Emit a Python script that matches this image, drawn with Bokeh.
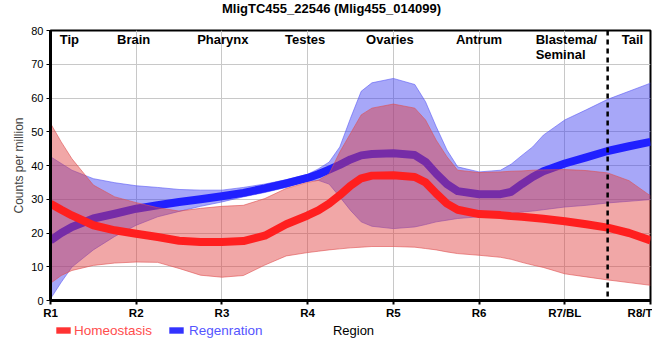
from bokeh.plotting import figure
from bokeh.layouts import column
from bokeh.models import (ColumnDataSource, Range1d, FixedTicker, Label, Span,
                          Legend, LegendItem)
from bokeh.embed import file_html
from bokeh.resources import INLINE

# ---- data ----
x = [1, 1.125, 1.25, 1.5, 1.75, 2, 2.25, 2.5, 2.75, 3, 3.25, 3.5, 3.75, 4,
     4.125, 4.25, 4.375, 4.5, 4.625, 4.75, 5, 5.25, 5.375, 5.5, 5.625, 5.75,
     6, 6.25, 6.375, 6.5, 6.625, 6.75, 7, 7.25, 7.5, 7.75, 8]

homeo_mean = [28.7, 26.9, 25.2, 22.3, 20.8, 19.8, 18.8, 17.7, 17.3, 17.3, 17.6,
              19.2, 22.6, 25.2, 26.7, 28.7, 31.2, 34.0, 36.2, 37.0, 37.1, 36.6,
              35.0, 31.7, 28.7, 26.9, 25.6, 25.3, 25.0, 24.8, 24.5, 24.2, 23.5,
              22.6, 21.6, 20.0, 17.8]
homeo_hi = [52.5, 47.0, 42.0, 34.2, 30.7, 29.0, 27.5, 26.5, 27.3, 27.9, 28.2,
            30.2, 33.2, 35.0, 35.6, 37.5, 44.0, 49.5, 55.0, 57.0, 58.2, 57.0,
            53.5, 47.5, 42.6, 38.6, 37.9, 38.1, 38.3, 38.4, 38.6, 38.7, 38.8,
            38.5, 37.8, 35.5, 31.0]
homeo_lo = [5.1, 7.4, 8.9, 10.4, 11.1, 11.4, 11.3, 9.5, 7.5, 6.9, 7.4, 10.5,
            13.2, 14.2, 14.6, 15.0, 15.3, 15.6, 15.8, 16.0, 16.0, 15.8, 15.4,
            15.0, 14.4, 13.9, 13.4, 12.8, 12.2, 11.3, 10.5, 9.8, 7.9, 7.0, 6.1,
            5.3, 4.5]

regen_mean = [17.8, 20.0, 21.8, 24.3, 25.7, 27.2, 28.2, 29.2, 30.0, 30.9, 31.9,
              33.2, 34.7, 36.3, 37.4, 38.8, 40.2, 41.8, 43.0, 43.4, 43.6, 43.1,
              41.1, 37.6, 34.5, 32.4, 31.5, 31.5, 32.2, 34.5, 36.6, 38.3, 40.6,
              42.4, 44.3, 45.7, 47.0]
regen_hi = [42.6, 40.6, 38.6, 36.1, 34.9, 34.0, 33.5, 32.9, 32.7, 32.7, 33.5,
            34.5, 35.8, 37.4, 39.0, 41.0, 45.5, 54.0, 62.0, 64.5, 65.8, 64.0,
            58.9, 51.5, 44.6, 39.6, 38.1, 38.6, 40.4, 43.0, 45.5, 49.0, 53.5,
            56.5, 59.6, 62.0, 64.4]
regen_lo = [0.5, 5.4, 9.9, 15.0, 19.0, 22.3, 24.8, 26.4, 27.9, 29.2, 30.7,
            32.0, 33.5, 35.4, 35.6, 34.5, 30.7, 26.7, 23.3, 22.0, 21.3, 21.8,
            22.5, 23.3, 23.8, 24.3, 24.8, 25.5, 25.8, 26.2, 26.5, 26.9, 27.7,
            28.2, 28.9, 29.4, 29.9]

tick_pos = [1, 2, 3, 4, 5, 6, 7, 8]
tick_labels = ["R1", "R2", "R3", "R4", "R5", "R6", "R7/BL", "R8/T"]
y_ticks = [0, 10, 20, 30, 40, 50, 60, 70, 80]

region_names = ["Tip", "Brain", "Pharynx", "Testes", "Ovaries", "Antrum", "Tail"]
region_x = [1.22, 1.97, 3.01, 3.97, 4.96, 6.0, 7.79]
blastema_lines = ["Blastema/", "Seminal"]
blastema_x = 6.66
tail_boundary = 7.5

TITLE = "MligTC455_22546 (Mlig455_014099)"
FONT = "Liberation Sans"
W = 652

src = ColumnDataSource(dict(x=x, hm=homeo_mean, hh=homeo_hi, hl=homeo_lo,
                            rm=regen_mean, rh=regen_hi, rl=regen_lo))

def strip(height):
    s = figure(width=W, height=height, output_backend="svg", toolbar_location=None,
               x_range=Range1d(50, 650), y_range=Range1d(0, height),
               x_axis_type=None, y_axis_type=None, min_border=0,
               min_border_left=50, min_border_right=2)
    s.grid.visible = False
    s.outline_line_color = None
    return s

# ---- top strip: title ----
H0 = 18
p0 = strip(H0)
p0.add_layout(Label(x=331, y=H0 - 8, text=TITLE, text_align="center",
                    text_baseline="middle", text_font=FONT, text_font_size="13px",
                    text_font_style="bold", text_color="black"))

# ---- main plot ----
p = figure(width=W, height=322 - H0, output_backend="svg", toolbar_location=None,
           x_range=Range1d(1, 8), y_range=Range1d(0, 80),
           min_border_left=50, min_border_right=2, min_border_top=30 - H0,
           min_border_bottom=22)

p.outline_line_color = "black"
p.outline_line_width = 2
p.outline_line_alpha = 1

for ax in (p.xaxis[0], p.yaxis[0]):
    ax.axis_line_width = 3
    ax.axis_line_color = "black"
    ax.major_tick_out = 4
    ax.major_tick_in = 0
    ax.minor_tick_out = 0
    ax.minor_tick_in = 0
    ax.major_tick_line_color = "black"
    ax.axis_label_text_font = FONT
    ax.axis_label_text_font_style = "normal"
    ax.major_label_text_font = FONT
    ax.major_label_text_color = "black"

p.xaxis.ticker = FixedTicker(ticks=tick_pos)
p.xaxis.major_label_overrides = {t: l for t, l in zip(tick_pos, tick_labels)}
p.xaxis.major_label_text_font_style = "bold"
p.xaxis.major_label_text_font_size = "11.5px"
p.xaxis.major_tick_line_width = 2
p.xaxis.major_label_standoff = 2

p.yaxis.ticker = FixedTicker(ticks=y_ticks)
p.yaxis.major_label_text_font_size = "11px"
p.yaxis.major_label_standoff = 3
p.yaxis.axis_label = "Counts per million"
p.yaxis.axis_label_text_font_size = "12px"
p.yaxis.axis_label_standoff = 2

p.xgrid.ticker = FixedTicker(ticks=tick_pos)
p.ygrid.ticker = FixedTicker(ticks=y_ticks)
p.grid.grid_line_color = "#c8c8c8"
p.grid.grid_line_width = 1

# regeneration band + line
p.varea(x="x", y1="rl", y2="rh", source=src, fill_color="#3c3cf0", fill_alpha=0.45)
p.line(x="x", y="rh", source=src, line_color="#5a5af5", line_width=1, line_alpha=0.6)
p.line(x="x", y="rl", source=src, line_color="#5a5af5", line_width=1, line_alpha=0.6)
p.line(x="x", y="rm", source=src, line_color="#2020ff", line_width=8, line_join="round")

# homeostasis band + line
p.varea(x="x", y1="hl", y2="hh", source=src, fill_color="#e03c3c", fill_alpha=0.45)
p.line(x="x", y="hh", source=src, line_color="#e05050", line_width=1, line_alpha=0.6)
p.line(x="x", y="hl", source=src, line_color="#e05050", line_width=1, line_alpha=0.6)
p.line(x="x", y="hm", source=src, line_color="#ff1f1f", line_width=8, line_join="round")

p.add_layout(Span(location=tail_boundary, dimension="height", line_color="black",
                  line_width=2.5, line_dash="5 4"))

for name, xv in zip(region_names, region_x):
    p.add_layout(Label(x=xv, y=77.3, text=name, text_align="center",
                       text_baseline="middle", text_font=FONT,
                       text_font_size="13px", text_font_style="bold",
                       text_color="black"))
for i, t in enumerate(blastema_lines):
    p.add_layout(Label(x=blastema_x, y=77.3 - 4.3 * i, text=t, text_align="left",
                       text_baseline="middle", text_font=FONT,
                       text_font_size="13px", text_font_style="bold",
                       text_color="black"))

# ---- bottom strip: legend + x-axis title ----
H2 = 22
p2 = strip(H2)

d1 = p2.quad(left=[-100], right=[-90], top=[-100], bottom=[-110],
             fill_color="#ff3333", line_color=None)
d2 = p2.quad(left=[-100], right=[-90], top=[-100], bottom=[-110],
             fill_color="#3333ff", line_color=None)

def make_legend(label, rend, loc, color, standoff):
    return Legend(items=[LegendItem(label=label, renderers=[rend], index=0)],
                  location=loc, orientation="horizontal", margin=0, padding=0,
                  spacing=0, glyph_width=18, glyph_height=8, label_height=16,
                  label_standoff=standoff, label_text_font=FONT,
                  label_text_font_size="13.5px", label_text_color=color,
                  background_fill_alpha=0, border_line_color=None)

p2.add_layout(make_legend("Homeostasis", d1, (4, 6), "#ff4d4d", 2))
p2.add_layout(make_legend("Regenration", d2, (117, 6), "#5555ff", 4))
p2.add_layout(Label(x=353, y=14, text="Region", text_align="center",
                    text_baseline="middle", text_font=FONT,
                    text_font_size="13px", text_color="black"))

layout = column(p0, p, p2, spacing=0)
open("out.html", "w").write(file_html(layout, INLINE))
